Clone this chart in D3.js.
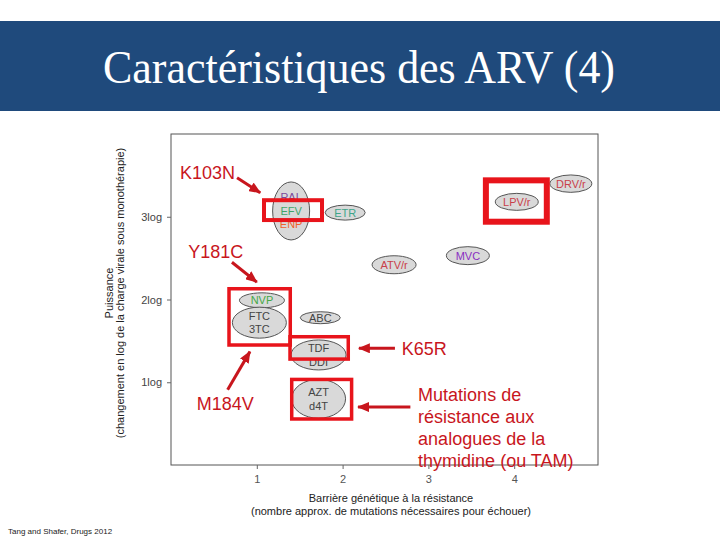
<!DOCTYPE html>
<html><head><meta charset="utf-8">
<script src="https://cdn.jsdelivr.net/npm/d3@7/dist/d3.min.js"></script>
<style>body{margin:0;background:#fff}svg{display:block}</style>
</head><body>
<script>
// ---- data ----
const title = "Caractéristiques des ARV (4)";
const drugLabels = [["RAL","EFV","ENP"],["ETR"],["NVP"],["FTC","3TC"],["ABC"],["TDF","DDI"],["AZT","d4T"],["ATV/r"],["MVC"],["LPV/r"],["DRV/r"]];
const barrier  = [1.40, 2.03, 1.06, 1.03, 1.74, 1.72, 1.72, 2.60, 3.46, 4.03, 4.66]; // x: genetic barrier
const potency  = [3.07, 3.05, 1.99, 1.72, 1.78, 1.33, 0.80, 2.42, 2.53, 3.18, 3.40]; // y: log reduction
const xTicks = [1, 2, 3, 4];
const yTicks = [1, 2, 3];
const yTitle = ["Puissance", "(changement en log de la charge virale sous monothérapie)"];
const xTitle = ["Barrière génétique à la résistance", "(nombre approx. de mutations nécessaires pour échouer)"];
const source = "Tang and Shafer, Drugs 2012";
// annotations (data units)
const annoText = [
  {t:["K103N"], x:0.105, y:3.46},
  {t:["Y181C"], x:0.20, y:2.50},
  {t:["K65R"], x:2.69, y:1.33},
  {t:["M184V"], x:0.30, y:0.66},
  {t:["Mutations de","résistance aux","analogues de la","thymidine (ou TAM)"], x:2.88, y:0.77}
];
const annoArrows = [
  [0.77, 3.47, 1.04, 3.29],
  [0.71, 2.45, 1.00, 2.21],
  [0.66, 0.91, 0.92, 1.37],
  [2.61, 1.41, 2.19, 1.41],
  [2.79, 0.70, 2.18, 0.70]
];
const annoBoxes = [
  [1.084, 3.20, 1.76, 2.96],
  [3.67, 3.44, 4.38, 2.94],
  [0.676, 2.13, 1.39, 1.45],
  [1.387, 1.55, 2.066, 1.28],
  [1.407, 1.034, 2.105, 0.556]
];

// ---- styles ----
const shapes = {"RAL":[18.5,29],"ETR":[20,7.5],"NVP":[22.5,7.5],"FTC":[27,15.5],"ABC":[20,6],"TDF":[27.5,15],"AZT":[27,19.5],"ATV/r":[22,9],"MVC":[21.5,9],"LPV/r":[21.5,8.5],"DRV/r":[21,8.7]};
const labelColor = {"RAL":"#7b4a9c","EFV":"#3fa56a","ENP":"#f0622e","ETR":"#3fa58a","NVP":"#45a845","ATV/r":"#c9404a","MVC":"#8a2fc2","LPV/r":"#c9404a","DRV/r":"#c9404a"};
const boxStroke = [4, 6, 3.5, 3.5, 3.5];
const RED = "#c8161d", BOXRED = "#e8141b";

const W = 720, H = 540;
const svg = d3.select("body").append("svg").attr("width", W).attr("height", H)
  .style("font-family", "'Liberation Sans', Arial, sans-serif");

// banner
svg.append("rect").attr("x",0).attr("y",21).attr("width",W).attr("height",90).attr("fill","#1f4a7c");
svg.append("text").attr("x",359).attr("y",83).attr("text-anchor","middle")
  .attr("font-family","'Liberation Serif','Times New Roman',serif").attr("font-size",47)
  .attr("textLength",512).attr("lengthAdjust","spacingAndGlyphs")
  .attr("fill","#fff").text(title);

const x = d3.scaleLinear().domain([0,5]).range([171,600]);
const y = d3.scaleLinear().domain([0,4]).range([465,134]);

// frame
svg.append("rect").attr("x",171).attr("y",134).attr("width",598-171).attr("height",465-134)
  .attr("fill","none").attr("stroke","#555").attr("stroke-width",1);

// axes
const ya = svg.append("g").attr("transform","translate(171,0)")
  .call(d3.axisLeft(y).tickValues(yTicks).tickFormat(d=>d+"log").tickSize(4).tickPadding(5));
ya.select(".domain").remove();
ya.selectAll("line").attr("stroke","#666");
ya.selectAll("text").attr("font-size",11).attr("fill","#444").attr("font-family","'Liberation Sans', Arial, sans-serif");

const xa = svg.append("g").attr("transform","translate(0,465)")
  .call(d3.axisBottom(x).tickValues(xTicks).tickFormat(d3.format("d")).tickSize(4).tickPadding(6));
xa.select(".domain").remove();
xa.selectAll("line").attr("stroke","#666");
xa.selectAll("text").attr("font-size",11).attr("fill","#555").attr("font-family","'Liberation Sans', Arial, sans-serif");

// axis titles
const yt = svg.append("text").attr("transform","translate(0,293) rotate(-90)")
  .attr("text-anchor","middle").attr("font-size",11).attr("fill","#222");
yt.append("tspan").attr("x",0).attr("y",113).text(yTitle[0]);
yt.append("tspan").attr("x",0).attr("y",124).text(yTitle[1]);
xTitle.forEach((t,i)=>{
  svg.append("text").attr("x",391).attr("y",502+i*12.5).attr("text-anchor","middle")
    .attr("font-size",11).attr("fill","#222").text(t);
});

// drugs
const drugs = drugLabels.map((l,i)=>({labels:l, x:barrier[i], y:potency[i]}));
const g = svg.append("g");
drugs.forEach(d=>{
  const s = shapes[d.labels[0]];
  g.append("ellipse").attr("cx",x(d.x)).attr("cy",y(d.y)).attr("rx",s[0]).attr("ry",s[1])
    .attr("fill","#d9d9d9").attr("stroke","#555").attr("stroke-width",1);
  const n = d.labels.length, sp = 13.5;
  d.labels.forEach((lab,j)=>{
    g.append("text").attr("x",x(d.x)).attr("y",y(d.y)+(j-(n-1)/2)*sp)
      .attr("dy","0.36em").attr("text-anchor","middle").attr("font-size",11)
      .attr("fill",labelColor[lab]||"#444").text(lab);
  });
});

// red boxes
annoBoxes.forEach((b,i)=>{
  svg.append("rect").attr("x",x(b[0])).attr("y",y(b[1]))
    .attr("width",x(b[2])-x(b[0])).attr("height",y(b[3])-y(b[1]))
    .attr("fill","none").attr("stroke",BOXRED).attr("stroke-width",boxStroke[i]);
});

// arrows
svg.append("defs").append("marker").attr("id","ah").attr("markerUnits","userSpaceOnUse")
  .attr("markerWidth",12).attr("markerHeight",10).attr("refX",11).attr("refY",5).attr("orient","auto")
  .append("path").attr("d","M0,0 L12,5 L0,10 Z").attr("fill",RED);
annoArrows.forEach(a=>{
  const x1=x(a[0]),y1=y(a[1]),x2=x(a[2]),y2=y(a[3]);
  svg.append("line").attr("x1",x1).attr("y1",y1).attr("x2",x2).attr("y2",y2)
    .attr("stroke",RED).attr("stroke-width",3).attr("marker-end","url(#ah)");
});

// annotation texts
annoText.forEach(a=>{
  a.t.forEach((t,i)=>{
    svg.append("text").attr("x",x(a.x)).attr("y",y(a.y)+i*22).attr("font-size",18)
      .attr("fill",RED).text(t);
  });
});

// source
svg.append("text").attr("x",8).attr("y",534).attr("font-size",8).attr("fill","#222").text(source);
</script>
</body></html>
